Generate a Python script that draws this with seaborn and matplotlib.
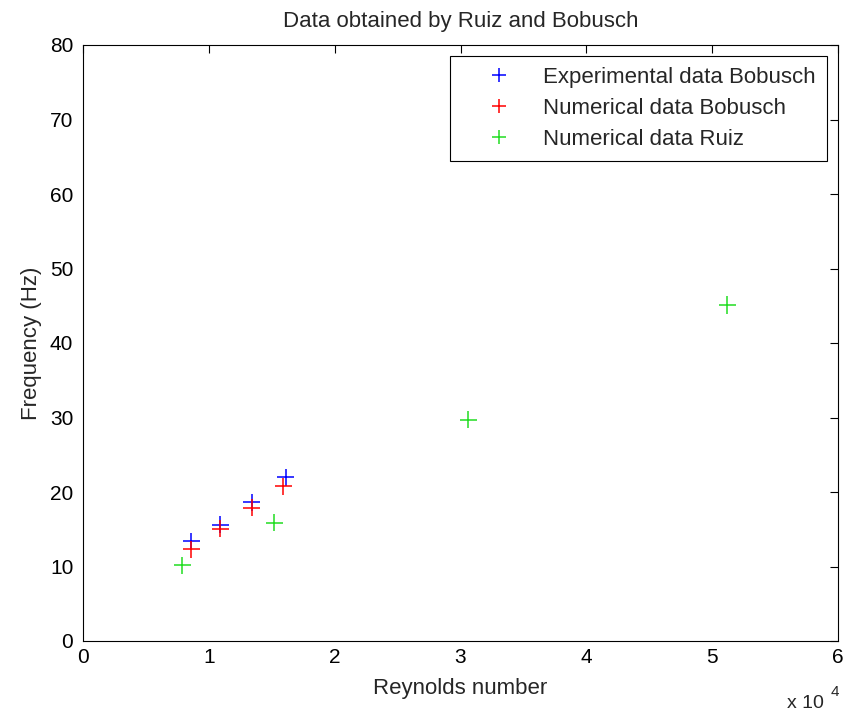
import matplotlib
matplotlib.use("Agg")
import matplotlib.pyplot as plt
import matplotlib.ticker as mticker
import pandas as pd
import seaborn as sns

# values (Reynolds number in plain units, frequency in Hz)
exp_bobusch_re = [8600, 10900, 13400, 16100]
exp_bobusch_freq = [13.4, 15.6, 18.6, 22.0]
num_bobusch_re = [8600, 10900, 13400, 15900]
num_bobusch_freq = [12.3, 15.1, 17.9, 20.8]
num_ruiz_re = [7900, 15200, 30600, 51200]
num_ruiz_freq = [10.2, 15.9, 29.7, 45.1]

series_names = ["Experimental data Bobusch", "Numerical data Bobusch", "Numerical data Ruiz"]
series_colors = ["#0000ff", "#ff0000", "#22dd22"]

x_ticks = [0, 10000, 20000, 30000, 40000, 50000, 60000]
y_ticks = [0, 10, 20, 30, 40, 50, 60, 70, 80]

sns.set_style("white")
plt.rcParams["font.family"] = ["Liberation Sans", "DejaVu Sans"]

df = pd.concat([
    pd.DataFrame({"re": exp_bobusch_re, "freq": exp_bobusch_freq, "series": series_names[0]}),
    pd.DataFrame({"re": num_bobusch_re, "freq": num_bobusch_freq, "series": series_names[1]}),
    pd.DataFrame({"re": num_ruiz_re, "freq": num_ruiz_freq, "series": series_names[2]}),
], ignore_index=True)

fig = plt.figure(figsize=(8.44, 7.12), dpi=100)
# axes box: left 83px, right 838px, top 45px, bottom 641px
ax = fig.add_axes([83 / 844, 71 / 712, 755 / 844, 596 / 712])

sns.scatterplot(data=df, x="re", y="freq", hue="series", hue_order=series_names,
                palette=series_colors, marker="+", s=150, linewidth=1.1, ax=ax)

ax.set_xlim(0, 60000)
ax.set_ylim(0, 80)
ax.set_xticks(x_ticks)
ax.set_yticks(y_ticks)
ax.xaxis.set_major_formatter(mticker.FuncFormatter(lambda v, p: f"{v / 1e4:g}"))

ax.set_title("Data obtained by Ruiz and Bobusch", fontsize=16, pad=13)
ax.set_xlabel("Reynolds number", fontsize=16, labelpad=8)
ax.set_ylabel("Frequency (Hz)", fontsize=16, labelpad=6)

ax.tick_params(direction="in", top=True, right=True, length=6, width=0.8,
               labelsize=15, colors="black")
ax.tick_params(axis="x", pad=5)
ax.tick_params(axis="y", pad=7)
for sp in ax.spines.values():
    sp.set_color("black")
    sp.set_linewidth(0.8)

handles, labels = ax.get_legend_handles_labels()
for h in handles:
    if hasattr(h, "set_markersize"):
        h.set_markersize(10)
leg = ax.legend(handles, labels, loc="upper right", fontsize=16, frameon=True,
                fancybox=False, framealpha=1, edgecolor="black",
                borderpad=0.5, handlelength=3.45, handletextpad=0.25,
                labelspacing=0.45, borderaxespad=0.5)
leg.get_frame().set_linewidth(0.8)

# MATLAB-style exponent under the right end of the x axis
fig.text(787 / 844, 1 - 708 / 712, "x 10", fontsize=14, ha="left", va="baseline")
fig.text(831 / 844, 1 - 696 / 712, "4", fontsize=11, ha="left", va="baseline")

fig.savefig("out.png", dpi=100, facecolor="white")
